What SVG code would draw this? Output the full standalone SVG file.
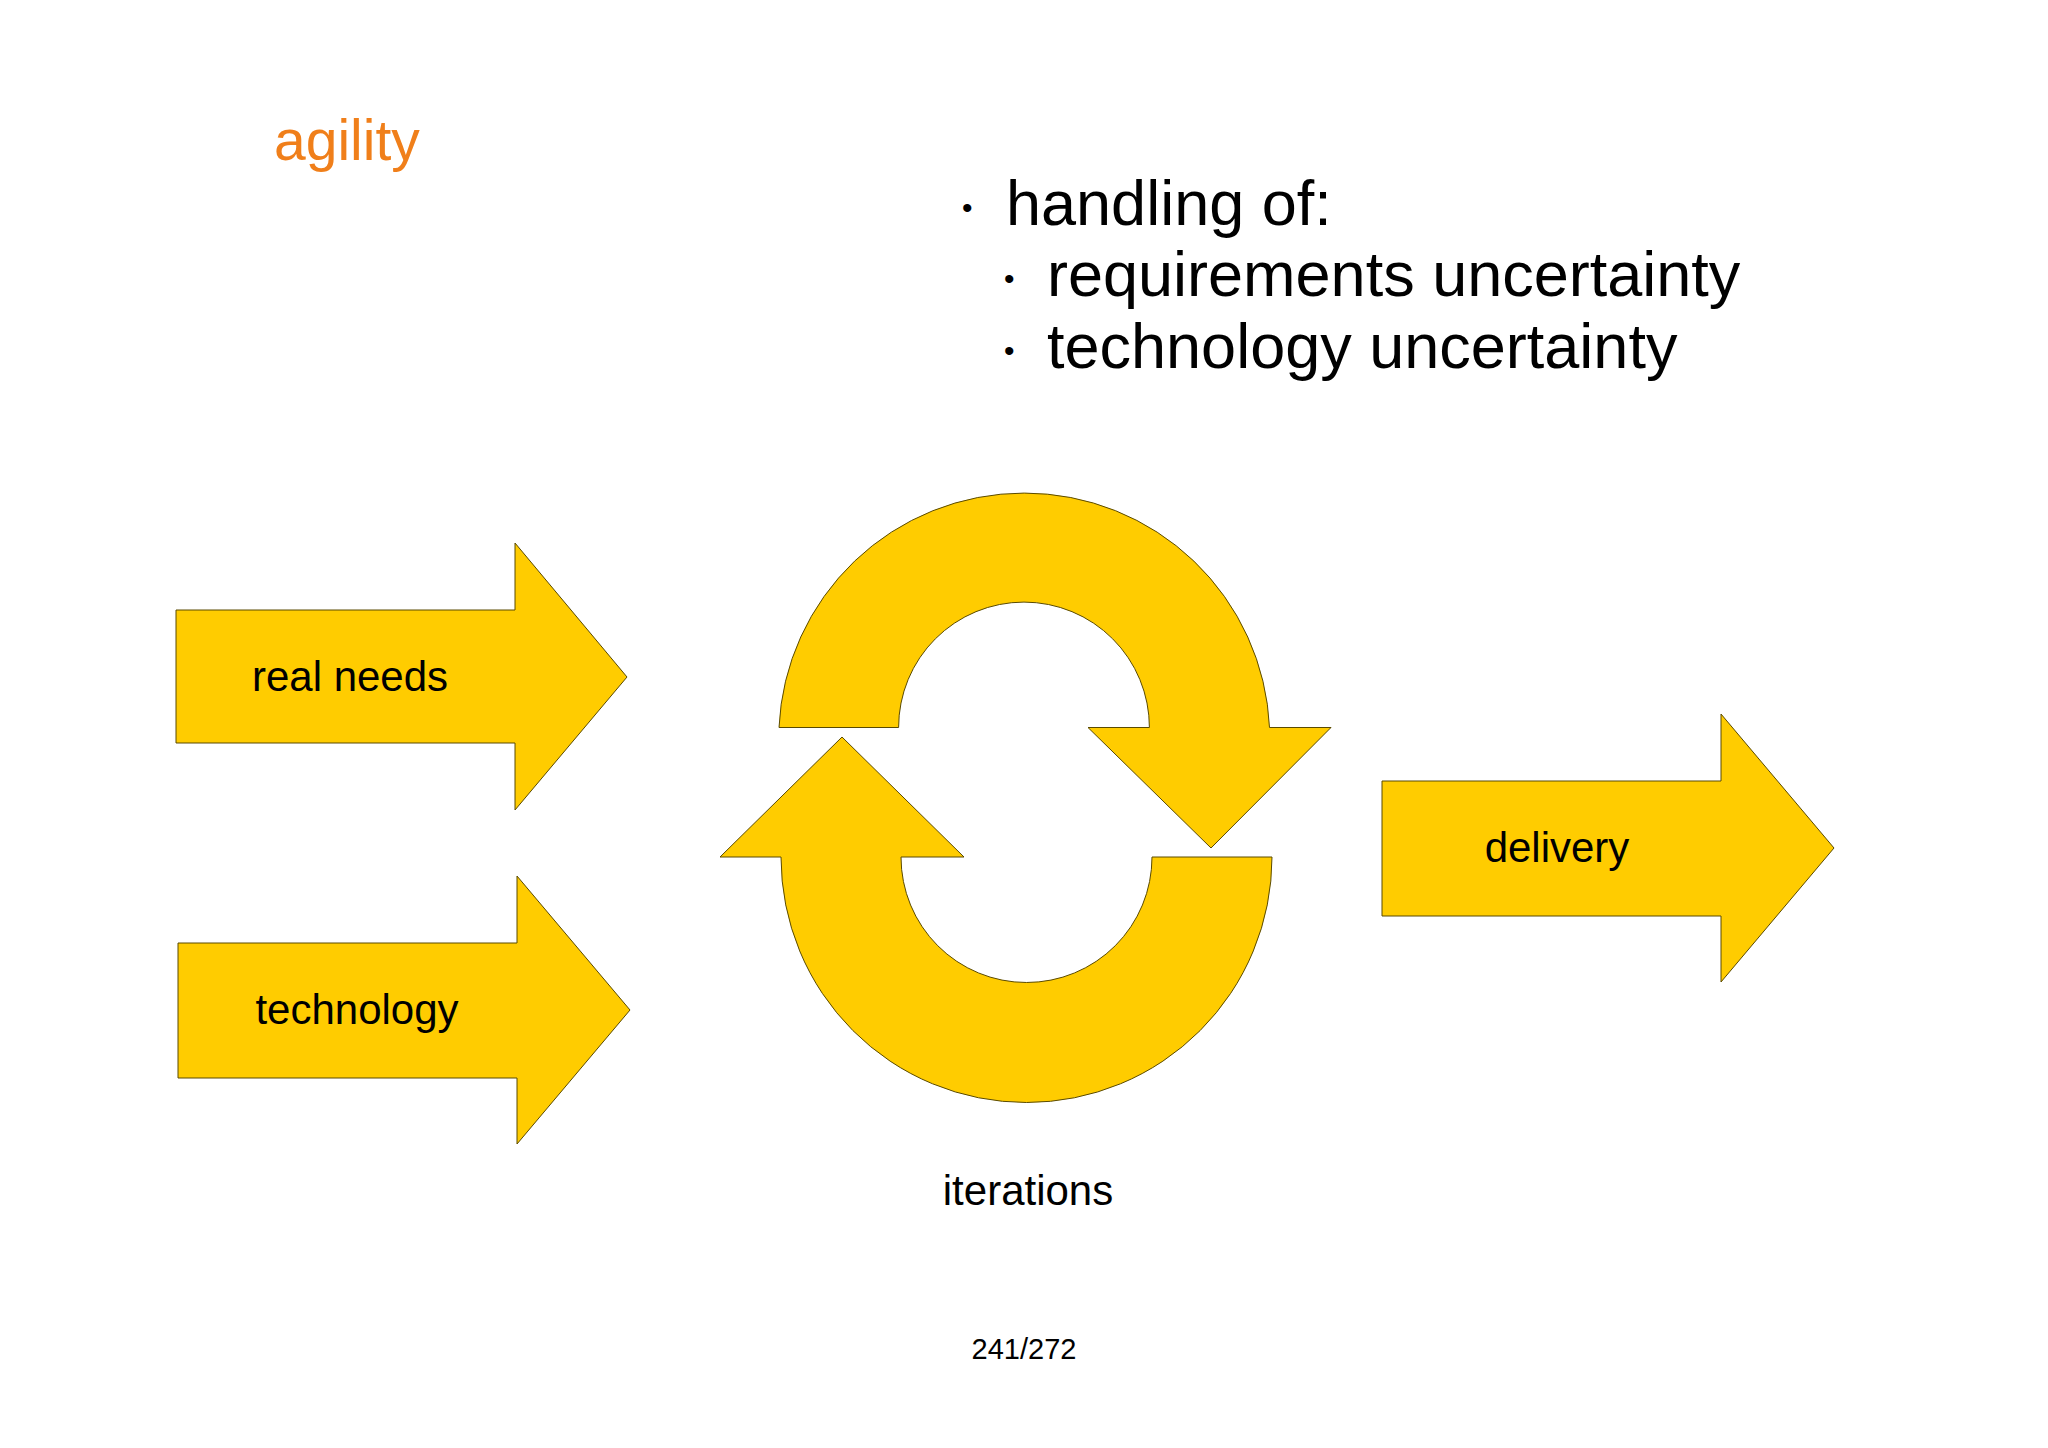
<svg xmlns="http://www.w3.org/2000/svg" width="2048" height="1448" viewBox="0 0 2048 1448">
<style>
.s{fill:#FFCC00;stroke:#5a4a00;stroke-width:1}
text{font-family:"Liberation Sans",Arial,sans-serif;fill:#000}
.l{font-size:42px;text-anchor:middle}
.b{font-size:63px}
</style>
<rect width="2048" height="1448" fill="#fff"/>
<text x="274" y="160" style="font-size:57px;fill:#F07F1A">agility</text>
<text x="962" y="218" class="b" style="font-size:30px">•</text>
<text x="1006" y="225" class="b">handling of:</text>
<text x="1004" y="289" style="font-size:30px">•</text>
<text x="1047" y="296" class="b">requirements uncertainty</text>
<text x="1004" y="361" style="font-size:30px">•</text>
<text x="1047" y="368" class="b">technology uncertainty</text>
<g id="realneeds"><path class="s" d="M176,610 H515 V543 L627,677 L515,810 V743 H176 Z"/><text x="350" y="691" class="l">real needs</text></g>
<g id="technology"><path class="s" d="M178,943 H517 V876 L630,1010 L517,1144 V1078 H178 Z"/><text x="357" y="1024" class="l">technology</text></g>
<g id="delivery"><path class="s" d="M1382,781 H1721 V714 L1834,848 L1721,982 V916 H1382 Z"/><text x="1557" y="862" class="l">delivery</text></g>
<g id="iterations">
<path class="s" d="M779,727.5 A245.5,245.5 0 0 1 1269.5,727.5 L1331,727.5 L1211,848 L1088,727.5 L1149.4,727.5 A125.4,125.4 0 0 0 898.6,727.5 Z"/>
<path class="s" d="M1272,857 A245.5,245.5 0 0 1 781,857 L720,857 L842,737 L964,857 L901,857 A125.4,125.4 0 0 0 1152,857 Z"/>
<text x="1028" y="1205" class="l">iterations</text>
</g>
<g id="connectors"/>
<text x="1024" y="1359" style="font-size:29px;text-anchor:middle">241/272</text>
</svg>
